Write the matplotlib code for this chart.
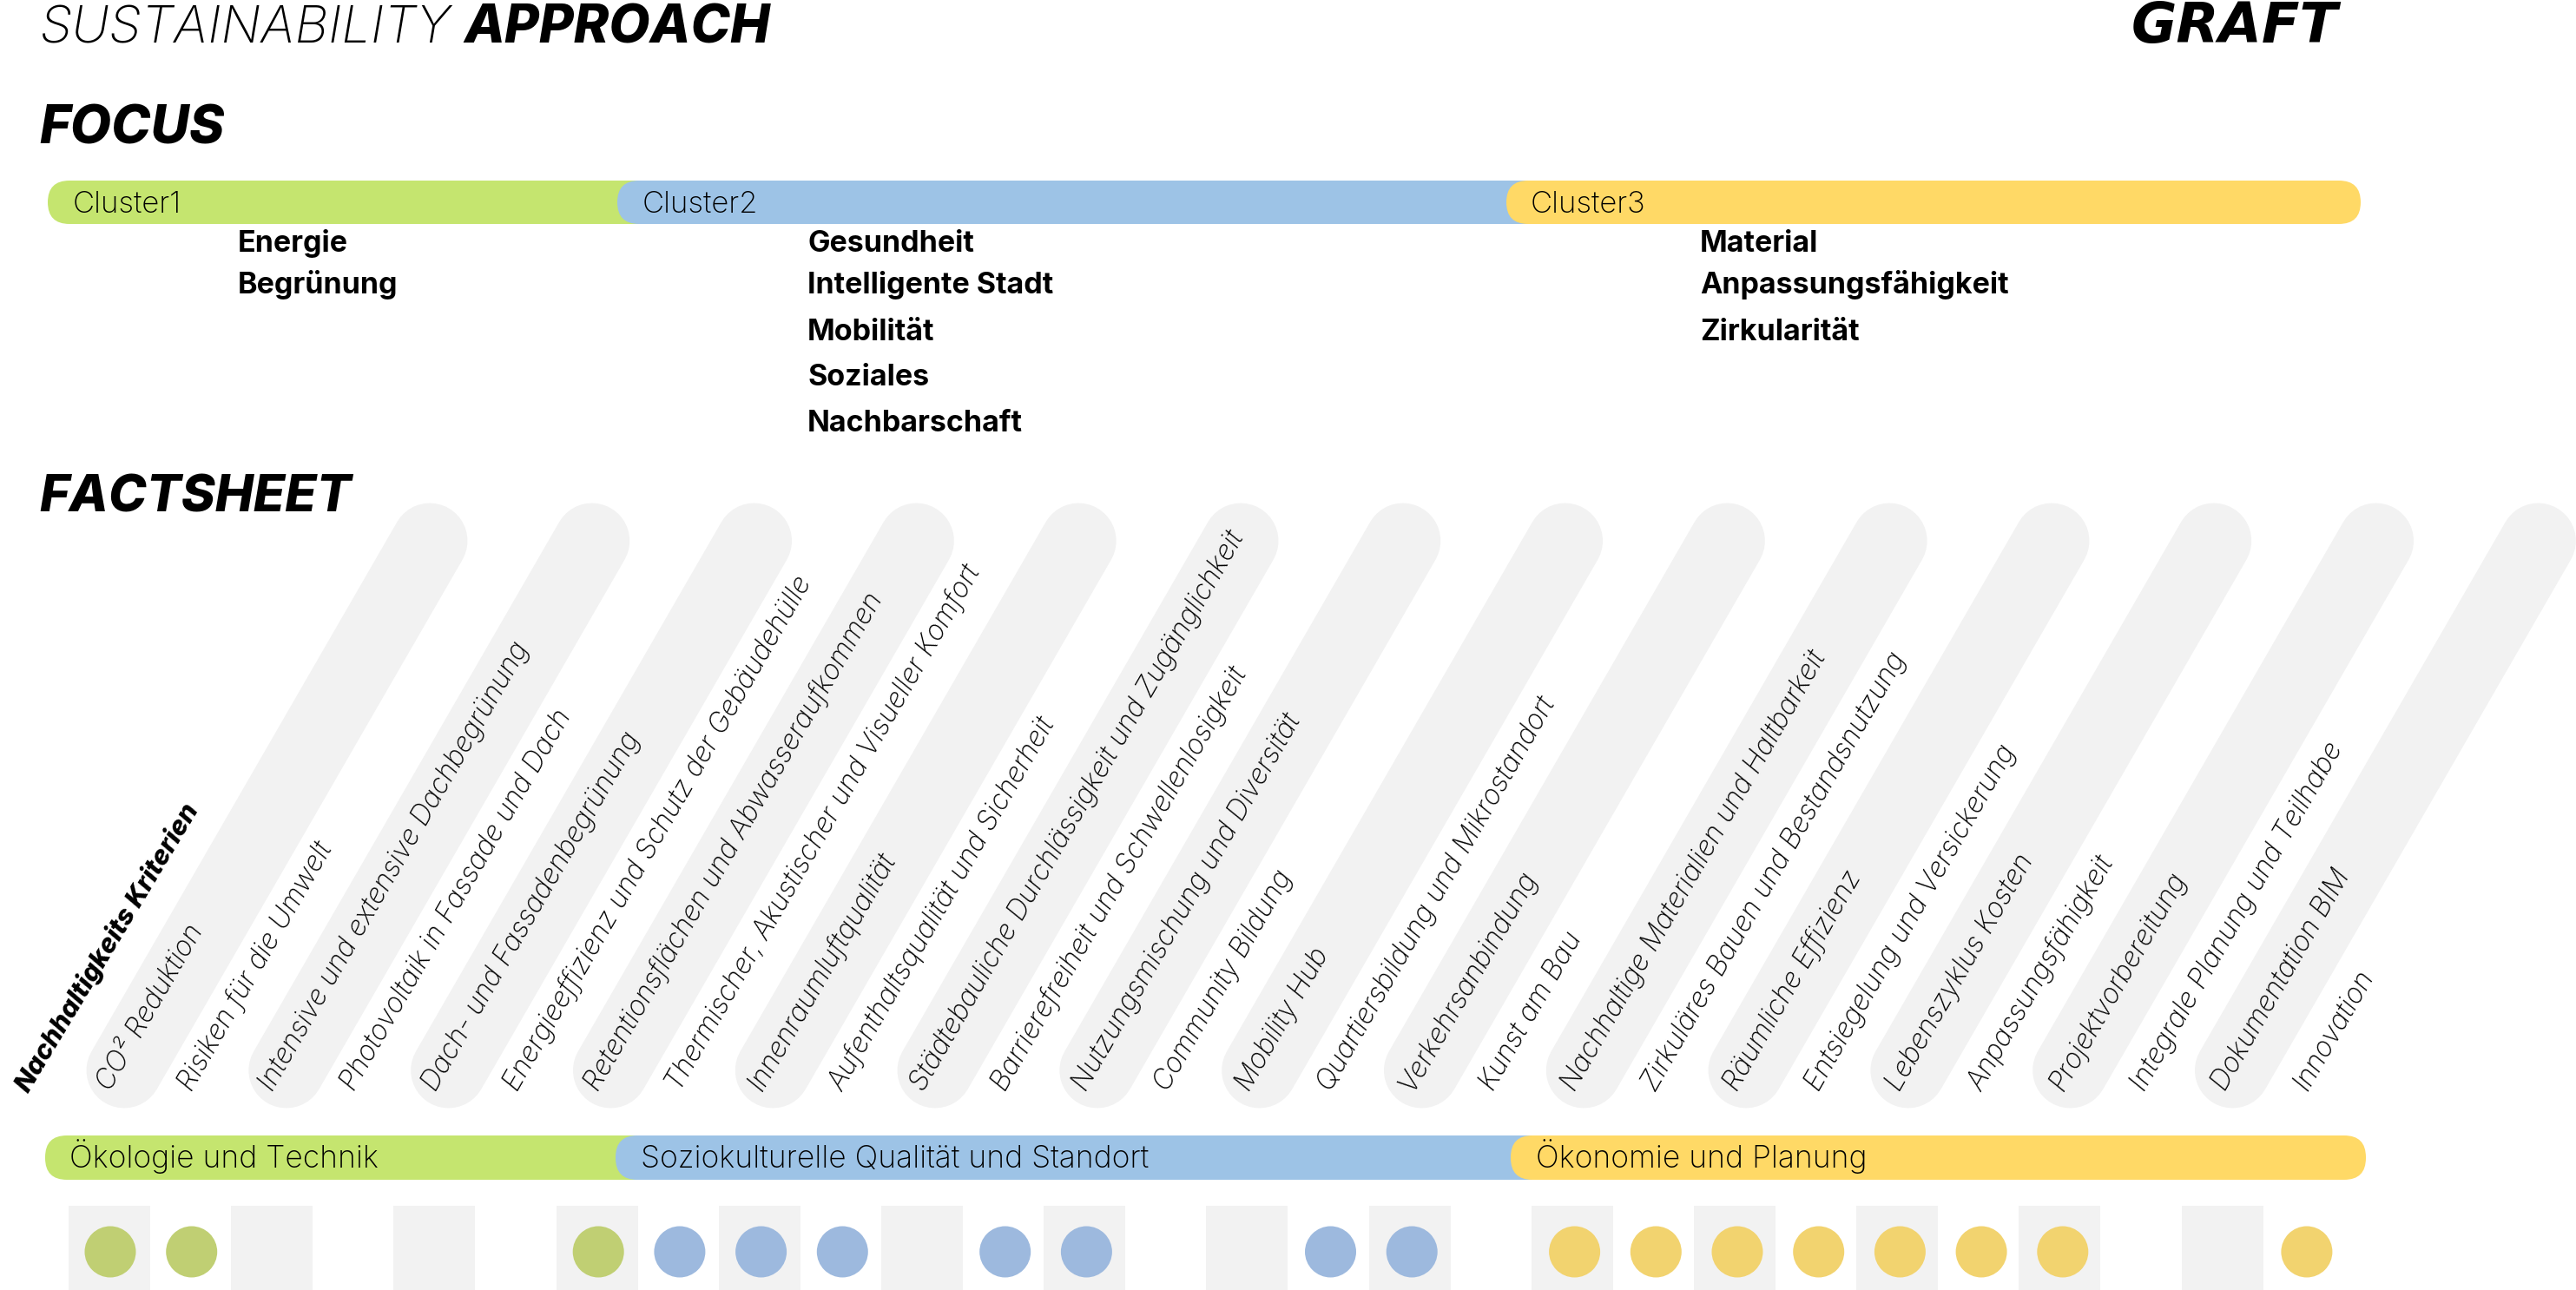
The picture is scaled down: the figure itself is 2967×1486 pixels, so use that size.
import numpy as np
import matplotlib
matplotlib.use('Agg')
import matplotlib.pyplot as plt
from matplotlib.patches import FancyBboxPatch, Circle, Rectangle

plt.rcParams['font.family'] = ['Inter', 'DejaVu Sans']

# data
cluster_names = ['Cluster1', 'Cluster2', 'Cluster3']
focus_topics = [['Energie', 'Begrünung'],
                ['Gesundheit', 'Intelligente Stadt', 'Mobilität', 'Soziales', 'Nachbarschaft'],
                ['Material', 'Anpassungsfähigkeit', 'Zirkularität']]
bereich_names = ['Ökologie und Technik', 'Soziokulturelle Qualität und Standort', 'Ökonomie und Planung']
kriterien = ['CO² Reduktion', 'Risiken für die Umwelt', 'Intensive und extensive Dachbegrünung',
             'Photovoltaik in Fassade und Dach', 'Dach- und Fassadenbegrünung',
             'Energieeffizienz und Schutz der Gebäudehülle', 'Retentionsflächen und Abwasseraufkommen',
             'Thermischer, Akustischer und Visueller Komfort', 'Innenraumluftqualität',
             'Aufenthaltsqualität und Sicherheit', 'Städtebauliche Durchlässigkeit und Zugänglichkeit',
             'Barrierefreiheit und Schwellenlosigkeit', 'Nutzungsmischung und Diversität',
             'Community Bildung', 'Mobility Hub', 'Quartiersbildung und Mikrostandort',
             'Verkehrsanbindung', 'Kunst am Bau', 'Nachhaltige Materialien und Haltbarkeit',
             'Zirkuläres Bauen und Bestandsnutzung', 'Räumliche Effizienz',
             'Entsiegelung und Versickerung', 'Lebenszyklus Kosten', 'Anpassungsfähigkeit',
             'Projektvorbereitung', 'Integrale Planung und Teilhabe', 'Dokumentation BIM', 'Innovation']
kriterien_group = [0] * 7 + [1] * 11 + [2] * 10
kriterien_marked = [1, 1, 0, 0, 0, 0, 1, 1, 1, 1, 0, 1, 1, 0,
                    0, 1, 1, 0, 1, 1, 1, 1, 1, 1, 1, 0, 0, 1]

bar_colors = ['#C5E56F', '#9DC3E6', '#FFD966']
dot_colors = ['#C0CF73', '#9DB9DE', '#F2D36F']
grey = '#F2F2F2'

fig = plt.figure(figsize=(29.67, 14.86), dpi=100)
ax = fig.add_axes([0, 0, 1, 1])
ax.set_xlim(0, 2967)
ax.set_ylim(1486, 0)
ax.axis('off')


def bar_row(starts, end, top, bottom, names, text_x, text_y, size):
    # later segments sit on top of the earlier ones
    stops = [starts[1] + 60, starts[2] + 60, end]
    for i in range(3):
        ax.add_patch(FancyBboxPatch((starts[i], top), stops[i] - starts[i], bottom - top,
                                    boxstyle='round,pad=0,rounding_size=25',
                                    fc=bar_colors[i], ec='none', zorder=2 + i))
        ax.text(text_x[i], text_y, names[i], fontsize=size, fontweight='light',
                va='baseline', zorder=6)


# headings
ax.text(45, 50, 'SUSTAINABILITY', fontsize=43, fontweight='light', style='italic')
ax.text(534, 50, 'APPROACH', fontsize=44, fontweight='heavy', style='italic')
ax.text(45, 165, 'FOCUS', fontsize=44, fontweight='heavy', style='italic')
ax.text(45, 590, 'FACTSHEET', fontsize=42.5, fontweight='heavy', style='italic')
ax.text(2574, 49, 'GRAFT', fontsize=46, fontweight='black', style='italic', ha='center',
        family='DejaVu Sans')

# focus clusters
bar_row([55, 711, 1735], 2719, 208, 258, cluster_names, [84, 740, 1763], 245, 25)
focus_x = [274, 930, 1958]
focus_y = [290, 338, 392, 444, 497]
for col, topics in zip(focus_x, focus_topics):
    for name, y in zip(topics, focus_y):
        ax.text(col, y, name, fontsize=24.5, fontweight='bold')

# diagonal pills and labels
for i in range(14):
    x0 = 143 + 186.8 * i
    ax.plot([x0, x0 + 352], [1233, 623], color=grey, lw=62.6, solid_capstyle='round', zorder=1)

col_x = 127 + 93.7 * np.arange(len(kriterien))
for x, name in zip(col_x, kriterien):
    ax.text(x, 1258, name, fontsize=23, fontweight='light', style='italic',
            rotation=60, rotation_mode='anchor', ha='left', va='baseline', zorder=5)
ax.text(33, 1260, 'Nachhaltigkeits Kriterien', fontsize=22, fontweight='heavy', style='italic',
        rotation=59, rotation_mode='anchor', ha='left', va='baseline', zorder=5)

bar_row([52, 709, 1740], 2725, 1308, 1359, bereich_names, [80, 738, 1769], 1345, 25.5)

# markers at the bottom
for i in range(14):
    ax.add_patch(Rectangle((79 + 187.2 * i, 1389), 94, 97, fc=grey, ec='none', zorder=1))
for x, group, marked in zip(col_x, kriterien_group, kriterien_marked):
    if marked:
        ax.add_patch(Circle((x, 1442), 29.5, fc=dot_colors[group], ec='none', zorder=2))

fig.savefig('out.png', dpi=100, facecolor='white')
